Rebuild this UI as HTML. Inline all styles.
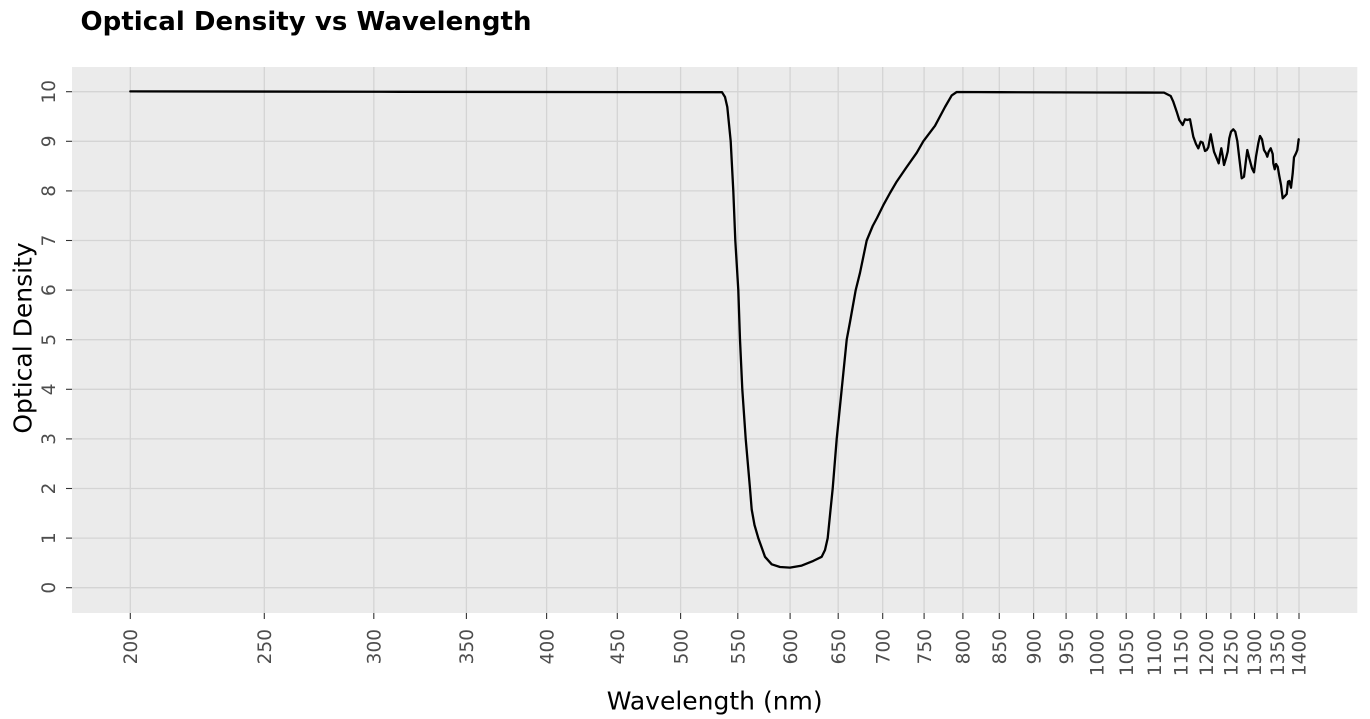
<!DOCTYPE html>
<html>
<head>
<meta charset="utf-8">
<style>
  html, body { margin:0; padding:0; background:#ffffff; }
  svg { display:block; }
  text { font-family: "DejaVu Sans", "Liberation Sans", sans-serif; }
</style>
</head>
<body>
<svg width="1370" height="719" viewBox="0 0 1370 719" xmlns="http://www.w3.org/2000/svg">
  <rect x="0" y="0" width="1370" height="719" fill="#ffffff"/>
  <!-- title -->
  <text x="80.5" y="30" font-size="26" font-weight="bold" fill="#000000" textLength="451" lengthAdjust="spacing">Optical Density vs Wavelength</text>

  <!-- panel -->
  <rect x="72" y="67" width="1285.3" height="546" fill="#EBEBEB"/>

  <!-- horizontal grid -->
  <g stroke="#D4D4D4" stroke-width="1.3">
    <line x1="72" x2="1357.3" y1="587.7" y2="587.7"/>
    <line x1="72" x2="1357.3" y1="538.1" y2="538.1"/>
    <line x1="72" x2="1357.3" y1="488.5" y2="488.5"/>
    <line x1="72" x2="1357.3" y1="438.9" y2="438.9"/>
    <line x1="72" x2="1357.3" y1="389.3" y2="389.3"/>
    <line x1="72" x2="1357.3" y1="339.7" y2="339.7"/>
    <line x1="72" x2="1357.3" y1="290.1" y2="290.1"/>
    <line x1="72" x2="1357.3" y1="240.5" y2="240.5"/>
    <line x1="72" x2="1357.3" y1="190.9" y2="190.9"/>
    <line x1="72" x2="1357.3" y1="141.3" y2="141.3"/>
    <line x1="72" x2="1357.3" y1="91.7" y2="91.7"/>
  </g>
  <!-- vertical grid -->
  <g stroke="#D4D4D4" stroke-width="1.3">
    <line y1="67" y2="613" x1="130.3" x2="130.3"/>
    <line y1="67" y2="613" x1="264.3" x2="264.3"/>
    <line y1="67" y2="613" x1="373.8" x2="373.8"/>
    <line y1="67" y2="613" x1="466.4" x2="466.4"/>
    <line y1="67" y2="613" x1="546.6" x2="546.6"/>
    <line y1="67" y2="613" x1="617.3" x2="617.3"/>
    <line y1="67" y2="613" x1="680.6" x2="680.6"/>
    <line y1="67" y2="613" x1="737.8" x2="737.8"/>
    <line y1="67" y2="613" x1="790.1" x2="790.1"/>
    <line y1="67" y2="613" x1="838.2" x2="838.2"/>
    <line y1="67" y2="613" x1="882.7" x2="882.7"/>
    <line y1="67" y2="613" x1="924.1" x2="924.1"/>
    <line y1="67" y2="613" x1="962.9" x2="962.9"/>
    <line y1="67" y2="613" x1="999.3" x2="999.3"/>
    <line y1="67" y2="613" x1="1033.6" x2="1033.6"/>
    <line y1="67" y2="613" x1="1066.1" x2="1066.1"/>
    <line y1="67" y2="613" x1="1096.9" x2="1096.9"/>
    <line y1="67" y2="613" x1="1126.2" x2="1126.2"/>
    <line y1="67" y2="613" x1="1154.1" x2="1154.1"/>
    <line y1="67" y2="613" x1="1180.8" x2="1180.8"/>
    <line y1="67" y2="613" x1="1206.4" x2="1206.4"/>
    <line y1="67" y2="613" x1="1230.9" x2="1230.9"/>
    <line y1="67" y2="613" x1="1254.5" x2="1254.5"/>
    <line y1="67" y2="613" x1="1277.1" x2="1277.1"/>
    <line y1="67" y2="613" x1="1299.0" x2="1299.0"/>
  </g>

  <!-- data line -->
  <path fill="none" stroke="#000000" stroke-width="2.3" stroke-linejoin="round" stroke-linecap="round"
    d="M130.3,91.4 L400,91.8 L722,92.2 L725,97 L727.3,107 L730.7,141.3 L733.3,190.9 L735.3,240.5 L738.3,290.1 L740,339.7 L742.3,389.3 L745.7,438.9 L750,488.5 L751.7,509.5 L754.5,525 L758.3,538.1 L765,556.8 L771.7,564.3 L780,567 L790,567.6 L801.7,565.6 L813.3,560.9 L821.7,556.8 L825,550 L827.7,538.1 L830.5,510 L832.7,488.5 L836.7,438.9 L841.7,389.3 L846.7,339.7 L850,322 L855.7,290.1 L860,272.8 L866.7,240.5 L872.7,226 L877,218 L883.3,205.2 L890,193 L896.7,181.6 L906,168 L916.7,152.8 L923.3,141.3 L935,125.8 L945,107 L951.7,95.4 L956.7,92 L1000,92.2 L1100,92.5 L1164,92.6 L1170.7,96 L1173.3,101.7 L1176.7,111.7 L1179.3,120 L1182.7,125 L1185,119.3 L1187.3,120 L1190,119.3 L1191.7,128.3 L1193.3,136.7 L1196,144 L1198.3,148.3 L1200.7,141.7 L1202.7,142.7 L1205,151 L1206.7,150 L1208.3,147.3 L1210.7,134.3 L1212.7,145 L1214,151.7 L1216.7,158.3 L1218.7,163.3 L1220,155 L1221.3,148.3 L1222.7,156 L1224,165 L1226,158.3 L1227.7,151.7 L1229.3,138.3 L1231,131.7 L1233.3,129.3 L1235.3,131.7 L1237.3,141 L1239.3,158.3 L1241.7,178.3 L1244,176.7 L1246,160 L1247.3,150 L1249.3,158.3 L1252,168.3 L1254,172.3 L1256,156.7 L1258.3,143.3 L1260,136 L1262,139.3 L1264,150 L1266,153.3 L1267.3,156.7 L1268.7,151.7 L1270.7,148.3 L1272.7,154 L1273.3,163.3 L1274.7,169.3 L1276,164 L1277.7,166.7 L1279.3,176 L1281,185 L1282.7,198.3 L1284.3,196.7 L1286.7,194 L1288,181.7 L1289.3,181 L1291,187.7 L1292.7,173.3 L1294,157.3 L1296,153.3 L1297.3,150 L1298.7,139.3"/>

  <!-- y ticks -->
  <g stroke="#333333" stroke-width="1.1">
    <line x1="66" x2="72" y1="587.7" y2="587.7"/>
    <line x1="66" x2="72" y1="538.1" y2="538.1"/>
    <line x1="66" x2="72" y1="488.5" y2="488.5"/>
    <line x1="66" x2="72" y1="438.9" y2="438.9"/>
    <line x1="66" x2="72" y1="389.3" y2="389.3"/>
    <line x1="66" x2="72" y1="339.7" y2="339.7"/>
    <line x1="66" x2="72" y1="290.1" y2="290.1"/>
    <line x1="66" x2="72" y1="240.5" y2="240.5"/>
    <line x1="66" x2="72" y1="190.9" y2="190.9"/>
    <line x1="66" x2="72" y1="141.3" y2="141.3"/>
    <line x1="66" x2="72" y1="91.7" y2="91.7"/>
  </g>
  <!-- y tick labels (rotated) -->
  <g font-size="18.5" fill="#4D4D4D" text-anchor="middle">
    <text transform="translate(55,587.7) rotate(-90)">0</text>
    <text transform="translate(55,538.1) rotate(-90)">1</text>
    <text transform="translate(55,488.5) rotate(-90)">2</text>
    <text transform="translate(55,438.9) rotate(-90)">3</text>
    <text transform="translate(55,389.3) rotate(-90)">4</text>
    <text transform="translate(55,339.7) rotate(-90)">5</text>
    <text transform="translate(55,290.1) rotate(-90)">6</text>
    <text transform="translate(55,240.5) rotate(-90)">7</text>
    <text transform="translate(55,190.9) rotate(-90)">8</text>
    <text transform="translate(55,141.3) rotate(-90)">9</text>
    <text transform="translate(55,91.7) rotate(-90)">10</text>
  </g>

  <!-- x ticks -->
  <g stroke="#333333" stroke-width="1.1">
    <line y1="613" y2="619" x1="130.3" x2="130.3"/>
    <line y1="613" y2="619" x1="264.3" x2="264.3"/>
    <line y1="613" y2="619" x1="373.8" x2="373.8"/>
    <line y1="613" y2="619" x1="466.4" x2="466.4"/>
    <line y1="613" y2="619" x1="546.6" x2="546.6"/>
    <line y1="613" y2="619" x1="617.3" x2="617.3"/>
    <line y1="613" y2="619" x1="680.6" x2="680.6"/>
    <line y1="613" y2="619" x1="737.8" x2="737.8"/>
    <line y1="613" y2="619" x1="790.1" x2="790.1"/>
    <line y1="613" y2="619" x1="838.2" x2="838.2"/>
    <line y1="613" y2="619" x1="882.7" x2="882.7"/>
    <line y1="613" y2="619" x1="924.1" x2="924.1"/>
    <line y1="613" y2="619" x1="962.9" x2="962.9"/>
    <line y1="613" y2="619" x1="999.3" x2="999.3"/>
    <line y1="613" y2="619" x1="1033.6" x2="1033.6"/>
    <line y1="613" y2="619" x1="1066.1" x2="1066.1"/>
    <line y1="613" y2="619" x1="1096.9" x2="1096.9"/>
    <line y1="613" y2="619" x1="1126.2" x2="1126.2"/>
    <line y1="613" y2="619" x1="1154.1" x2="1154.1"/>
    <line y1="613" y2="619" x1="1180.8" x2="1180.8"/>
    <line y1="613" y2="619" x1="1206.4" x2="1206.4"/>
    <line y1="613" y2="619" x1="1230.9" x2="1230.9"/>
    <line y1="613" y2="619" x1="1254.5" x2="1254.5"/>
    <line y1="613" y2="619" x1="1277.1" x2="1277.1"/>
    <line y1="613" y2="619" x1="1299.0" x2="1299.0"/>
  </g>
  <!-- x tick labels (rotated, end anchored near axis) -->
  <g font-size="18.5" fill="#4D4D4D" text-anchor="end">
    <text transform="translate(137,629) rotate(-90)">200</text>
    <text transform="translate(271,629) rotate(-90)">250</text>
    <text transform="translate(380.5,629) rotate(-90)">300</text>
    <text transform="translate(473.1,629) rotate(-90)">350</text>
    <text transform="translate(553.3,629) rotate(-90)">400</text>
    <text transform="translate(624,629) rotate(-90)">450</text>
    <text transform="translate(687.3,629) rotate(-90)">500</text>
    <text transform="translate(744.5,629) rotate(-90)">550</text>
    <text transform="translate(796.8,629) rotate(-90)">600</text>
    <text transform="translate(844.9,629) rotate(-90)">650</text>
    <text transform="translate(889.4,629) rotate(-90)">700</text>
    <text transform="translate(930.8,629) rotate(-90)">750</text>
    <text transform="translate(969.6,629) rotate(-90)">800</text>
    <text transform="translate(1006,629) rotate(-90)">850</text>
    <text transform="translate(1040.3,629) rotate(-90)">900</text>
    <text transform="translate(1072.8,629) rotate(-90)">950</text>
    <text transform="translate(1103.6,629) rotate(-90)">1000</text>
    <text transform="translate(1132.9,629) rotate(-90)">1050</text>
    <text transform="translate(1160.8,629) rotate(-90)">1100</text>
    <text transform="translate(1187.5,629) rotate(-90)">1150</text>
    <text transform="translate(1213.1,629) rotate(-90)">1200</text>
    <text transform="translate(1237.6,629) rotate(-90)">1250</text>
    <text transform="translate(1261.2,629) rotate(-90)">1300</text>
    <text transform="translate(1283.8,629) rotate(-90)">1350</text>
    <text transform="translate(1305.7,629) rotate(-90)">1400</text>
  </g>

  <!-- axis titles -->
  <text x="714.7" y="709.5" font-size="25" fill="#000000" text-anchor="middle">Wavelength (nm)</text>
  <text transform="translate(31.5,338) rotate(-90)" font-size="25" fill="#000000" text-anchor="middle">Optical Density</text>
</svg>
</body>
</html>
